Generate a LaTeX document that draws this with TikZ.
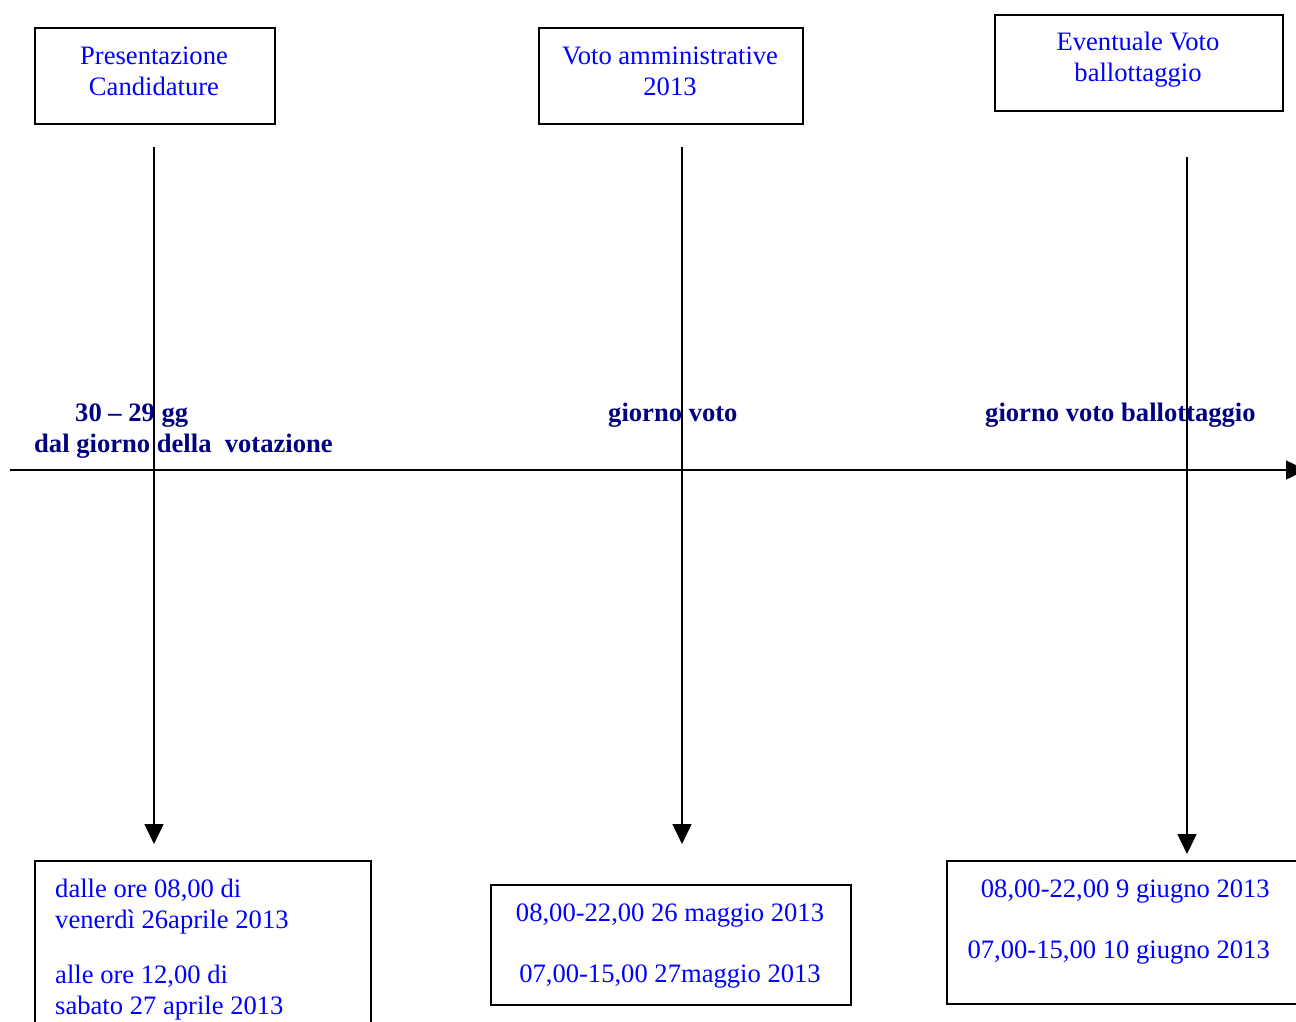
\documentclass[tikz,border=0pt]{standalone}
\usepackage{fontspec}
\setmainfont{Liberation Serif}
\usetikzlibrary{arrows.meta}
\definecolor{txtblue}{RGB}{0,0,255}
\definecolor{txtnavy}{RGB}{0,0,128}
\begin{document}
\begin{tikzpicture}[x=1pt,y=-1pt,
  frame/.style={draw=black,line width=1.5pt,inner sep=0pt,anchor=north west},
  bluetxt/.style={text=txtblue,inner sep=0pt,font=\fontsize{26.6}{31}\selectfont,text width=420pt,align=flush center,anchor=base},
  navytxt/.style={text=txtnavy,inner sep=0pt,font=\fontsize{26.6}{31}\selectfont\bfseries,anchor=base west,text width=340pt,align=flush left},
  conn/.style={line width=1.5pt,-{Triangle[length=20pt,width=19pt]}}]
\useasboundingbox (0,0) rectangle (1296,1021);
\clip (0,0) rectangle (1296,1021);
% top boxes
\node[frame,minimum width=240pt,minimum height=96pt] (t1) at (34,27) {};
\node[frame,minimum width=264pt,minimum height=96pt] (t2) at (538,27) {};
\node[frame,minimum width=288pt,minimum height=96pt] (t3) at (994,14) {};
\node[bluetxt] (t1txt) at (154,64) {Presentazione\\Candidature};
\node[bluetxt] (t2txt) at (670,64) {Voto amministrative\\2013};
\node[bluetxt] (t3txt) at (1138,50) {Eventuale Voto\\ballottaggio};
% bottom boxes
\node[frame,minimum width=336pt,minimum height=220pt] (b1) at (34,860) {};
\node[frame,minimum width=360pt,minimum height=120pt] (b2) at (490,884) {};
\node[frame,minimum width=420pt,minimum height=143pt] (b3) at (946,860) {};
\node[bluetxt,align=flush left,anchor=base west] (b1txt) at (55,897) {dalle ore 08,00 di\\venerdì 26aprile 2013\\[24pt]alle ore 12,00 di\\sabato 27 aprile 2013};
\node[bluetxt] (b2txt) at (670,921) {08,00-22,00 26 maggio 2013\\[30pt]07,00-15,00 27maggio 2013};
\node[bluetxt,align=flush right,anchor=base east] (b3txt) at (1270,897) {08,00-22,00 9 giugno 2013\\[30pt]07,00-15,00 10 giugno 2013};
% axis labels
\node[navytxt] (l1) at (34,421) {\hspace*{41pt}30 – 29 gg\\dal giorno della\ \ votazione};
\node[navytxt] (l2) at (608,421) {giorno voto};
\node[navytxt] (l3) at (985,421) {giorno voto ballottaggio};
% connectors
\coordinate (s1) at (154,147); \coordinate (e1) at (154,844);
\coordinate (s2) at (682,147); \coordinate (e2) at (682,844);
\coordinate (s3) at (1187,157); \coordinate (e3) at (1187,854);
\coordinate (ax0) at (10,470); \coordinate (ax1) at (1306,470);
\draw[conn] (s1) -- (e1);
\draw[conn] (s2) -- (e2);
\draw[conn] (s3) -- (e3);
\draw[conn] (ax0) -- (ax1);
\end{tikzpicture}
\end{document}
